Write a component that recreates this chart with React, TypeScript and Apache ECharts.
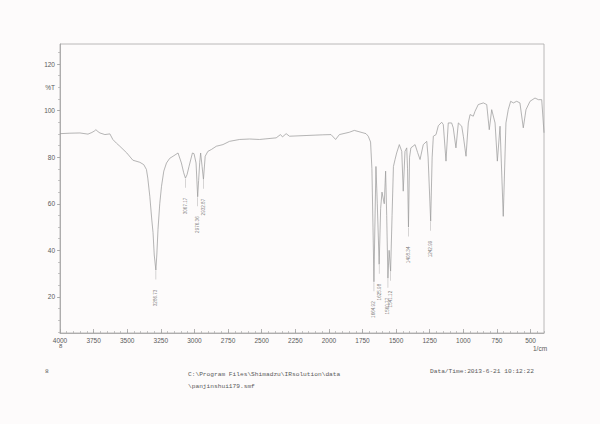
import React, { useEffect, useRef } from "react";
import * as echarts from "echarts";

// Spectrum (wavenumber in 1/cm, transmittance in %T)
const wavenumbers = [
  4000, 3926, 3852, 3792, 3763, 3745, 3733, 3718, 3703, 3666, 3629, 3607, 3580, 3555, 3503, 3458,
  3406, 3377, 3357, 3347, 3332, 3317, 3308, 3299, 3287, 3280, 3271, 3258, 3245, 3228, 3208, 3184,
  3159, 3122, 3097, 3080, 3067, 3055, 3040, 3015, 3003, 2988, 2976, 2969, 2961, 2954, 2943, 2933,
  2920, 2900, 2874, 2837, 2788, 2739, 2664, 2590, 2516, 2392, 2360, 2345, 2318, 2293, 2170, 2046,
  1984, 1950, 1922, 1848, 1811, 1761, 1724, 1707, 1690, 1680, 1672, 1665, 1658, 1650, 1640, 1626,
  1615, 1605, 1595, 1588, 1578, 1570, 1561, 1552, 1541, 1530, 1520, 1508, 1496, 1476, 1458, 1447,
  1434, 1421, 1415, 1408, 1400, 1390, 1359, 1340, 1322, 1298, 1272, 1262, 1243, 1232, 1223, 1203,
  1186, 1161, 1149, 1129, 1112, 1087, 1075, 1055, 1037, 1012, 1000, 980, 963, 950, 926, 913,
  889, 851, 826, 807, 789, 764, 747, 727, 703, 683, 666, 648, 628, 603, 579, 554,
  534, 504, 467, 442, 417, 400,
];
const transmittance = [
  90.1, 90.3, 90.4, 89.9, 90.6, 91.2, 91.8, 91.0, 90.4, 89.7, 90.0, 87.6, 86.0, 84.7, 81.8, 78.7,
  77.8, 76.8, 74.7, 71.0, 63.2, 53.0, 47.6, 38.0, 31.5, 38.0, 49.0, 60.0, 67.5, 74.0, 77.5, 79.5,
  80.4, 81.8, 77.5, 73.3, 71.0, 72.5, 76.1, 81.8, 81.5, 77.5, 63.0, 70.0, 77.6, 81.8, 76.0, 70.5,
  80.4, 82.5, 83.3, 84.7, 85.4, 86.8, 87.6, 87.8, 87.6, 88.3, 89.7, 88.7, 90.1, 89.0, 89.3, 89.6,
  89.7, 87.6, 89.7, 90.7, 91.5, 90.7, 90.1, 89.0, 86.5, 75.0, 50.0, 26.5, 50.0, 76.0, 60.0, 34.0,
  58.0, 65.0, 62.0, 60.0, 74.0, 55.0, 28.0, 40.0, 31.0, 55.0, 76.0, 79.0, 81.8, 85.4, 82.5, 65.4,
  82.5, 84.0, 75.0, 50.0, 80.0, 84.0, 85.4, 82.0, 79.0, 85.4, 86.8, 80.0, 52.5, 80.0, 89.0, 89.7,
  93.5, 95.0, 94.0, 78.3, 94.7, 94.7, 92.6, 84.0, 94.7, 93.3, 89.0, 80.4, 94.7, 98.3, 97.6, 99.7,
  102.6, 103.3, 102.6, 91.8, 100.4, 94.7, 78.3, 93.3, 54.6, 94.7, 100.4, 104.0, 103.3, 104.0, 103.3, 92.6,
  100.4, 104.0, 105.4, 104.7, 104.7, 90.5,
];

// Labelled peaks
const peakWavenumbers = [3286.73, 3067.17, 2976.36, 2932.87, 1664.92, 1625.98, 1560.77, 1541.12, 1408.34, 1242.99];
const peakTransmittance = [31.5, 71.0, 63.0, 70.5, 26.5, 34.0, 28.0, 31.0, 50.0, 52.5];

// Axis tick labels
const xTickLabels = [4000, 3750, 3500, 3250, 3000, 2750, 2500, 2250, 2000, 1750, 1500, 1250, 1000, 750, 500];
const yTickLabels = [20, 40, 60, 80, 100, 120];
const yUnitLabelAt = 110;

const xMinorTicks: number[] = [];
for (let v = 400; v <= 4000; v += 50) xMinorTicks.push(v);
const yMinorTicks: number[] = [];
for (let v = 5; v <= 125; v += 5) yMinorTicks.push(v);

const LINE = "#a2a2a2";
const TEXT = "#5a5a5a";

export default function App() {
  const ref = useRef<HTMLDivElement>(null);
  useEffect(() => {
    if (!ref.current) return;
    const chart = echarts.init(ref.current, undefined, { renderer: "svg" });
    const spectrum = wavenumbers.map((w, i) => [w, transmittance[i]]);
    const peaks = peakWavenumbers.map((w, i) => ({ value: [w, peakTransmittance[i]], name: w.toFixed(2) }));
    const fam = "'Liberation Sans', Arial, sans-serif";
    chart.setOption({
      animation: false,
      backgroundColor: "#fdfbfb",
      grid: {
        left: 60,
        right: 56,
        top: 44,
        bottom: 91,
        show: true,
        borderColor: "#a8a8a8",
        borderWidth: 0.8,
        backgroundColor: "transparent",
      },
      xAxis: [
        {
          type: "value",
          inverse: true,
          min: 400,
          max: 4000,
          splitLine: { show: false },
          axisLine: { show: true, lineStyle: { color: LINE, width: 0.8 } },
          axisTick: { show: true, inside: true, length: 4, customValues: xTickLabels, lineStyle: { color: LINE, width: 0.8 } },
          axisLabel: {
            show: true,
            customValues: xTickLabels,
            formatter: (v: number) => String(v),
            fontSize: 6.5,
            color: TEXT,
            margin: 4,
            fontFamily: fam,
          },
        },
        {
          type: "value",
          inverse: true,
          min: 400,
          max: 4000,
          position: "bottom",
          splitLine: { show: false },
          axisLine: { show: false },
          axisTick: { show: true, inside: true, length: 2, customValues: xMinorTicks, lineStyle: { color: LINE, width: 0.6 } },
          axisLabel: { show: false },
        },
      ],
      yAxis: [
        {
          type: "value",
          min: 4.5,
          max: 128.6,
          splitLine: { show: false },
          axisLine: { show: true, lineStyle: { color: LINE, width: 0.8 } },
          axisTick: { show: true, length: 3, customValues: yTickLabels, lineStyle: { color: LINE, width: 0.8 } },
          axisLabel: {
            show: true,
            customValues: [...yTickLabels, yUnitLabelAt],
            formatter: (v: number) => (v === yUnitLabelAt ? "%T" : String(v)),
            fontSize: 6.5,
            color: TEXT,
            margin: 5,
            fontFamily: fam,
          },
        },
        {
          type: "value",
          min: 4.5,
          max: 128.6,
          position: "left",
          splitLine: { show: false },
          axisLine: { show: false },
          axisTick: { show: true, length: 2, customValues: yMinorTicks, lineStyle: { color: LINE, width: 0.6 } },
          axisLabel: { show: false },
        },
      ],
      series: [
        {
          type: "line",
          data: spectrum,
          showSymbol: false,
          symbol: "none",
          lineStyle: { color: "#9c9c9c", width: 0.75 },
          silent: true,
        },
        {
          type: "scatter",
          data: peaks,
          symbol: "rect",
          symbolSize: [0.5, 9],
          symbolOffset: [0, 5],
          itemStyle: { color: "#9c9c9c" },
          label: {
            show: true,
            formatter: (p: any) => p.name,
            position: "bottom",
            distance: 10,
            rotate: 90,
            align: "right",
            verticalAlign: "middle",
            fontSize: 4.6,
            color: TEXT,
            fontFamily: fam,
          },
          silent: true,
        },
      ],
      graphic: [
        { type: "text", left: 59, top: 343, style: { text: "8", fontSize: 6, fill: TEXT, fontFamily: fam } },
        { type: "text", left: 533, top: 345, style: { text: "1/cm", fontSize: 6.5, fill: TEXT, fontFamily: fam } },
        { type: "text", left: 45, top: 368, style: { text: "8", fontSize: 6.2, fill: TEXT, fontFamily: "'Liberation Mono', monospace" } },
        {
          type: "text",
          left: 188,
          top: 368,
          style: {
            text: "C:\\Program Files\\Shimadzu\\IRsolution\\data\n\\panjinshui179.smf",
            fontSize: 6.2,
            lineHeight: 12,
            fill: TEXT,
            fontFamily: "'Liberation Mono', monospace",
          },
        },
        {
          type: "text",
          left: 430,
          top: 368,
          style: { text: "Data/Time:2013-6-21 10:12:22", fontSize: 6.2, fill: TEXT, fontFamily: "'Liberation Mono', monospace" },
        },
      ],
    });
    return () => chart.dispose();
  }, []);
  return (
    <div
      ref={ref}
      style={{ position: "fixed", left: 0, top: 0, width: 600, height: 424, background: "#fdfbfb" }}
    />
  );
}
